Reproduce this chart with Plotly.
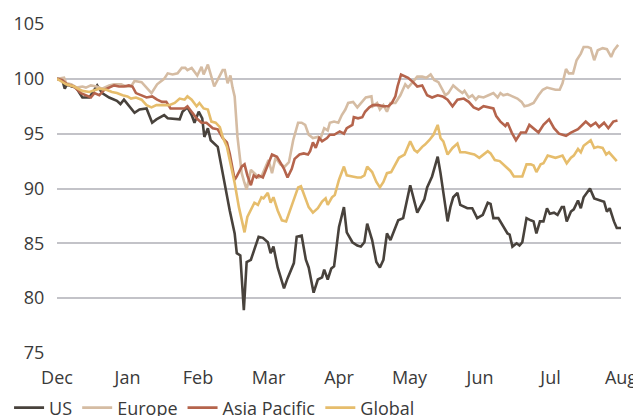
import plotly.graph_objects as go

# x positions are in months since 1 Dec (0 = Dec, 8 = Aug)
month_labels = ["Dec", "Jan", "Feb", "Mar", "Apr", "May", "Jun", "Jul", "Aug"]

us = [(0.00, 100.0), (0.07, 100.0), (0.11, 99.1), (0.14, 99.5), (0.21, 99.3), (0.27, 99.2), (0.36, 98.3),
      (0.46, 98.3), (0.57, 99.4), (0.64, 98.7), (0.74, 98.3), (0.85, 98.0), (0.90, 97.7), (0.95, 98.1),
      (1.10, 96.9), (1.17, 97.2), (1.27, 97.3), (1.35, 96.0), (1.41, 96.3), (1.52, 96.7), (1.57, 96.4),
      (1.74, 96.3), (1.78, 97.0), (1.85, 97.4), (1.91, 96.7), (1.95, 96.0), (2.01, 97.0), (2.06, 96.4),
      (2.09, 94.7), (2.14, 95.5), (2.18, 94.4), (2.28, 93.8), (2.45, 88.0), (2.52, 85.9), (2.55, 84.1),
      (2.60, 83.9), (2.65, 78.9), (2.69, 83.3), (2.75, 83.5), (2.80, 84.4), (2.86, 85.6), (2.92, 85.5),
      (2.99, 85.1), (3.03, 84.1), (3.07, 84.7), (3.13, 82.8), (3.22, 80.9), (3.27, 81.8), (3.36, 83.2),
      (3.40, 85.6), (3.47, 85.7), (3.53, 83.5), (3.57, 82.8), (3.64, 80.5), (3.70, 81.7), (3.76, 81.9),
      (3.79, 82.6), (3.84, 81.7), (3.89, 82.7), (3.93, 82.9), (4.00, 86.5), (4.07, 88.3), (4.11, 86.0),
      (4.19, 85.1), (4.26, 84.8), (4.31, 84.7), (4.36, 85.1), (4.40, 86.8), (4.47, 85.3), (4.53, 83.3),
      (4.58, 82.8), (4.63, 83.5), (4.68, 85.9), (4.73, 85.3), (4.80, 86.5), (4.84, 87.1), (4.91, 87.3),
      (5.01, 90.3), (5.11, 87.8), (5.18, 88.7), (5.21, 89.0), (5.25, 90.1), (5.32, 91.1), (5.40, 92.9),
      (5.44, 91.4), (5.54, 87.0), (5.58, 88.3), (5.62, 89.2), (5.68, 89.6), (5.72, 88.5), (5.82, 88.2),
      (5.89, 88.2), (5.96, 87.3), (6.04, 87.6), (6.11, 88.7), (6.15, 88.6), (6.19, 87.3), (6.26, 87.3),
      (6.33, 86.5), (6.39, 85.9), (6.42, 85.8), (6.46, 84.7), (6.52, 85.0), (6.56, 84.8), (6.60, 85.1),
      (6.66, 87.3), (6.72, 87.1), (6.76, 87.0), (6.80, 85.9), (6.85, 87.0), (6.90, 87.0), (6.95, 88.2),
      (6.99, 87.7), (7.05, 87.8), (7.10, 87.6), (7.16, 88.3), (7.19, 88.3), (7.23, 87.0), (7.29, 87.9),
      (7.33, 88.1), (7.39, 88.9), (7.43, 88.2), (7.47, 89.2), (7.56, 90.0), (7.62, 89.1), (7.67, 89.0),
      (7.76, 88.8), (7.80, 87.9), (7.84, 88.2), (7.90, 87.0), (7.94, 86.4), (8.00, 86.4)]

europe = [(0.00, 100.0), (0.10, 100.1), (0.13, 99.6), (0.20, 99.5), (0.28, 99.2), (0.36, 99.3), (0.41, 99.2),
          (0.48, 99.4), (0.56, 99.3), (0.64, 99.1), (0.74, 99.4), (0.81, 99.5), (0.91, 99.5), (0.98, 99.3),
          (1.05, 99.3), (1.10, 99.8), (1.20, 99.7), (1.27, 99.2), (1.34, 98.7), (1.42, 99.5), (1.52, 100.0),
          (1.57, 100.5), (1.64, 100.4), (1.71, 100.5), (1.77, 101.0), (1.82, 101.0), (1.85, 100.8),
          (1.91, 101.0), (1.99, 100.3), (2.05, 101.1), (2.08, 100.4), (2.14, 101.3), (2.23, 99.3),
          (2.35, 100.8), (2.38, 100.8), (2.42, 99.6), (2.46, 100.3), (2.49, 99.2), (2.52, 98.4),
          (2.56, 94.7), (2.62, 91.4), (2.66, 90.5), (2.69, 89.9), (2.75, 91.7), (2.80, 91.4), (2.86, 91.0),
          (2.90, 91.1), (2.96, 92.0), (3.00, 92.6), (3.05, 91.4), (3.10, 92.8), (3.17, 92.2), (3.23, 92.0),
          (3.29, 92.4), (3.35, 94.4), (3.42, 96.0), (3.47, 96.0), (3.52, 95.8), (3.57, 94.9), (3.63, 94.6),
          (3.70, 94.7), (3.74, 94.6), (3.79, 95.5), (3.84, 95.3), (3.87, 96.0), (3.93, 96.1), (3.99, 96.0),
          (4.04, 96.7), (4.09, 97.2), (4.13, 97.8), (4.20, 97.9), (4.26, 97.4), (4.33, 97.9), (4.38, 98.3),
          (4.46, 98.4), (4.48, 97.5), (4.54, 97.8), (4.58, 97.2), (4.63, 97.6), (4.68, 97.0), (4.73, 97.8),
          (4.80, 97.8), (4.87, 98.5), (4.94, 99.5), (4.98, 99.2), (5.05, 99.7), (5.11, 100.2), (5.18, 100.2),
          (5.24, 100.1), (5.30, 100.4), (5.35, 99.9), (5.41, 99.7), (5.47, 99.0), (5.51, 98.5), (5.55, 98.7),
          (5.62, 99.4), (5.69, 99.0), (5.75, 98.7), (5.78, 98.9), (5.84, 98.3), (5.89, 98.5), (5.94, 98.1),
          (5.98, 98.4), (6.05, 98.3), (6.12, 98.5), (6.19, 98.7), (6.25, 98.3), (6.29, 98.7), (6.33, 98.5),
          (6.39, 98.6), (6.46, 98.4), (6.53, 98.2), (6.59, 97.9), (6.63, 97.5), (6.69, 97.6), (6.76, 97.8),
          (6.83, 98.5), (6.89, 99.0), (6.95, 99.2), (7.00, 99.1), (7.07, 99.0), (7.13, 99.0), (7.17, 99.6),
          (7.22, 100.9), (7.26, 100.5), (7.32, 100.5), (7.37, 101.7), (7.43, 102.3), (7.47, 102.9),
          (7.53, 102.9), (7.57, 102.8), (7.62, 101.7), (7.67, 102.6), (7.74, 102.8), (7.80, 102.7),
          (7.86, 102.0), (7.90, 102.6), (7.96, 103.1)]

asia_pacific = [(0.00, 100.0), (0.07, 99.9), (0.14, 99.5), (0.24, 99.3), (0.34, 98.7), (0.41, 98.5),
                (0.48, 98.3), (0.53, 98.7), (0.60, 98.5), (0.67, 99.0), (0.74, 99.2), (0.81, 99.4),
                (0.88, 99.3), (0.95, 99.3), (1.02, 99.4), (1.07, 99.3), (1.12, 98.7), (1.20, 98.5),
                (1.27, 98.3), (1.35, 98.4), (1.42, 98.1), (1.49, 97.9), (1.55, 97.9), (1.61, 97.3),
                (1.69, 97.3), (1.81, 97.3), (1.85, 97.5), (1.91, 97.0), (1.98, 96.4), (2.05, 96.0),
                (2.12, 96.0), (2.21, 95.5), (2.28, 95.4), (2.35, 94.6), (2.41, 94.2), (2.45, 93.2),
                (2.49, 91.7), (2.52, 90.8), (2.55, 91.1), (2.62, 92.0), (2.66, 92.2), (2.70, 91.2),
                (2.75, 90.3), (2.79, 91.2), (2.83, 91.0), (2.86, 91.2), (2.92, 91.0), (2.98, 91.9),
                (3.05, 93.1), (3.12, 92.9), (3.16, 92.5), (3.22, 91.8), (3.27, 91.0), (3.33, 91.8),
                (3.37, 92.7), (3.44, 93.1), (3.50, 93.2), (3.56, 93.1), (3.59, 93.4), (3.63, 94.2),
                (3.67, 93.7), (3.72, 94.6), (3.76, 94.3), (3.83, 94.6), (3.87, 94.9), (3.93, 94.9),
                (4.01, 95.2), (4.07, 95.0), (4.11, 95.5), (4.19, 95.8), (4.21, 96.5), (4.27, 96.4),
                (4.33, 96.5), (4.37, 97.0), (4.43, 97.4), (4.48, 97.6), (4.56, 97.6), (4.63, 97.5),
                (4.70, 97.5), (4.75, 97.8), (4.80, 98.4), (4.83, 99.3), (4.88, 100.4), (4.94, 100.2),
                (4.98, 100.1), (5.05, 99.7), (5.11, 99.3), (5.18, 99.4), (5.25, 98.5), (5.32, 98.3),
                (5.40, 98.5), (5.47, 98.4), (5.54, 98.1), (5.61, 97.5), (5.68, 98.1), (5.77, 98.2),
                (5.84, 97.9), (5.91, 97.4), (5.98, 97.2), (6.05, 97.5), (6.12, 97.4), (6.19, 97.3),
                (6.23, 96.6), (6.29, 96.1), (6.36, 95.7), (6.39, 96.0), (6.45, 95.1), (6.51, 94.4),
                (6.58, 95.1), (6.65, 95.1), (6.70, 95.8), (6.76, 95.5), (6.83, 95.1), (6.90, 95.8),
                (6.98, 96.3), (7.05, 95.5), (7.12, 95.0), (7.22, 94.8), (7.29, 95.1), (7.39, 95.4),
                (7.50, 96.1), (7.57, 95.7), (7.64, 96.0), (7.69, 95.6), (7.76, 96.0), (7.82, 95.5),
                (7.89, 96.1), (7.95, 96.2)]

global_ = [(0.00, 100.0), (0.13, 99.5), (0.24, 99.3), (0.36, 98.9), (0.46, 98.8), (0.60, 99.1), (0.70, 99.0),
           (0.78, 98.8), (0.85, 98.7), (0.93, 98.5), (1.00, 98.4), (1.05, 98.2), (1.12, 98.3), (1.20, 98.1),
           (1.27, 97.6), (1.34, 97.4), (1.41, 97.6), (1.49, 97.6), (1.59, 97.6), (1.67, 97.8), (1.74, 98.2),
           (1.81, 98.1), (1.85, 98.4), (1.91, 98.1), (1.98, 97.5), (2.02, 97.8), (2.08, 97.3), (2.14, 97.2),
           (2.19, 96.1), (2.25, 96.0), (2.31, 95.6), (2.35, 94.7), (2.41, 93.8), (2.45, 92.6), (2.52, 90.5),
           (2.58, 88.3), (2.63, 86.8), (2.66, 86.0), (2.70, 87.4), (2.76, 88.2), (2.80, 88.7), (2.85, 88.5),
           (2.90, 89.2), (2.93, 89.1), (2.99, 89.6), (3.03, 88.7), (3.07, 89.2), (3.13, 88.0), (3.19, 87.1),
           (3.25, 87.0), (3.30, 87.9), (3.36, 89.0), (3.42, 90.1), (3.46, 90.2), (3.52, 89.2), (3.57, 88.3),
           (3.63, 87.8), (3.70, 88.2), (3.76, 88.8), (3.81, 89.1), (3.84, 88.5), (3.90, 89.2), (3.94, 89.4),
           (4.00, 90.8), (4.07, 92.0), (4.11, 91.2), (4.19, 91.1), (4.26, 91.0), (4.31, 91.0), (4.36, 91.2),
           (4.40, 92.0), (4.47, 91.5), (4.53, 90.6), (4.58, 90.1), (4.63, 90.6), (4.68, 91.4), (4.74, 91.5),
           (4.80, 92.2), (4.85, 92.8), (4.93, 93.1), (5.01, 94.3), (5.07, 93.5), (5.11, 93.3), (5.18, 93.8),
           (5.22, 94.0), (5.28, 94.4), (5.34, 94.9), (5.40, 95.8), (5.44, 94.6), (5.48, 94.3), (5.54, 93.1),
           (5.61, 93.7), (5.68, 94.1), (5.72, 93.3), (5.79, 93.3), (5.86, 93.2), (5.92, 93.1), (5.99, 92.8),
           (6.05, 93.1), (6.11, 93.4), (6.15, 93.2), (6.21, 92.6), (6.28, 92.5), (6.33, 92.2), (6.39, 91.9),
           (6.43, 91.6), (6.48, 91.1), (6.55, 91.1), (6.60, 91.1), (6.66, 92.2), (6.72, 92.2), (6.76, 92.1),
           (6.80, 91.5), (6.86, 92.2), (6.90, 92.3), (6.96, 93.0), (7.02, 92.9), (7.07, 92.8), (7.12, 92.9),
           (7.17, 93.0), (7.23, 92.3), (7.29, 92.8), (7.33, 93.0), (7.39, 93.6), (7.43, 93.3), (7.47, 93.9),
           (7.53, 94.2), (7.57, 94.4), (7.62, 93.7), (7.67, 93.8), (7.74, 93.7), (7.79, 93.1), (7.83, 93.3),
           (7.89, 92.9), (7.94, 92.5)]

series_names = ["US", "Europe", "Asia Pacific", "Global"]
series_data = [us, europe, asia_pacific, global_]
series_colors = ["#48423c", "#d5bca3", "#b5644c", "#e6bd6c"]

fig = go.Figure()
for name, data, color in zip(series_names, series_data, series_colors):
    fig.add_trace(go.Scatter(
        x=[p[0] for p in data], y=[p[1] for p in data], mode="lines", name=name,
        line=dict(color=color, width=2.6),
    ))

fig.add_shape(type="line", xref="paper", x0=0, x1=1, yref="y", y0=80, y1=80,
              line=dict(color="#222222", width=1.6), layer="between")

fig.update_layout(
    width=633, height=408,
    margin=dict(l=49, r=20, t=16, b=63, autoexpand=False),
    paper_bgcolor="white", plot_bgcolor="white",
    font=dict(family="Open Sans, Noto Sans, sans-serif", size=18, color="#3a3a3a"),
    showlegend=True,
    legend=dict(orientation="h", x=-0.085, xanchor="left", y=-0.167, yanchor="middle",
                font=dict(size=18, color="#3a3a3a"), itemwidth=30, tracegroupgap=0,
                bgcolor="rgba(0,0,0,0)"),
    xaxis=dict(range=[0, 8], tickmode="array", tickvals=list(range(9)), ticktext=month_labels,
               showgrid=False, zeroline=False, showline=False,
               ticks="outside", ticklen=8, tickcolor="rgba(0,0,0,0)"),
    yaxis=dict(range=[75, 105], tickmode="array", tickvals=[75, 80, 85, 90, 95, 100, 105],
               showgrid=True, gridcolor="#c3c3c8", gridwidth=1.5, zeroline=False, showline=False,
               ticks="outside", ticklen=8, tickcolor="rgba(0,0,0,0)"),
)

fig.write_html("out.html")
